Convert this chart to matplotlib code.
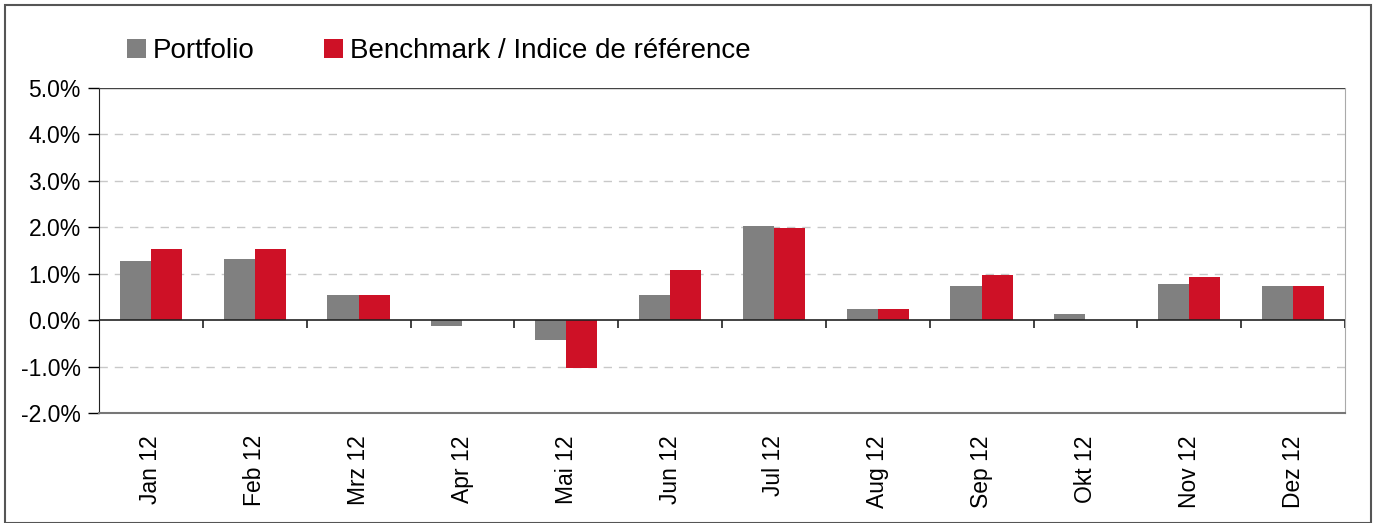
import matplotlib
matplotlib.use("Agg")
import matplotlib.pyplot as plt
import numpy as np
from matplotlib.patches import Rectangle

months = ["Jan 12", "Feb 12", "Mrz 12", "Apr 12", "Mai 12", "Jun 12",
          "Jul 12", "Aug 12", "Sep 12", "Okt 12", "Nov 12", "Dez 12"]
portfolio = [1.27, 1.31, 0.54, -0.12, -0.43, 0.54, 2.03, 0.24, 0.73, 0.13, 0.78, 0.73]
benchmark = [1.53, 1.53, 0.54, 0.0, -1.03, 1.08, 1.98, 0.24, 0.97, 0.0, 0.93, 0.73]
yticks = [-2, -1, 0, 1, 2, 3, 4, 5]
series_names = ["Portfolio", "Benchmark / Indice de référence"]

GRAY = "#808080"
RED = "#CE1126"

plt.rcParams['font.family'] = ['Liberation Sans', 'DejaVu Sans']

fig = plt.figure(figsize=(13.8, 5.23), dpi=100)
ax = fig.add_axes([99/1380, 1 - 413/523, (1345-99)/1380, (413-88)/523])

x = np.arange(len(months))
w = 0.3
ax.bar(x - w/2, portfolio, width=w, color=GRAY, label=series_names[0], zorder=3)
ax.bar(x + w/2, benchmark, width=w, color=RED, label=series_names[1], zorder=3)

ax.set_xlim(-0.5, len(months) - 0.5)
ax.set_ylim(-2, 5)
ax.set_yticks(yticks)
ax.set_yticklabels([f"{v:.1f}%" for v in yticks], fontsize=16.5)
ax.tick_params(axis='y', length=8, width=1, direction='out', pad=5)

for v in yticks:
    if v not in (0, -2, 5):
        ax.axhline(v, color="#c8c8c8", lw=1, ls=(0, (6, 5)), zorder=1)
ax.axhline(0, color="#222222", lw=1.2, zorder=4)
ax.axhline(5, color="#444444", lw=1, zorder=4)

# boundary ticks on the zero line
bounds = np.arange(len(months) + 1) - 0.5
ax.vlines(bounds[1:], 0, -0.17, color="#222222", lw=1.2, zorder=4)

ax.set_xticks(x)
ax.set_xticklabels(months, rotation=90, fontsize=16.5)
ax.tick_params(axis='x', length=0, pad=16)

ax.spines["top"].set_visible(False)
ax.spines["right"].set_color("#aaaaaa")
ax.spines["bottom"].set_color("#777777")
ax.spines["bottom"].set_linewidth(1.5)
ax.spines["left"].set_color("#222222")

# legend
leg = ax.legend(loc="lower left", bbox_to_anchor=(127/1380, 1 - 64/523), bbox_transform=fig.transFigure,
                ncol=2, frameon=False, fontsize=20, handlelength=0.68, handleheight=0.68,
                handletextpad=0.25, columnspacing=2.5, borderaxespad=0, borderpad=0)

# outer frame
fig.patches.append(Rectangle((5/1380, 0), 1366/1380, 1 - 5/523, transform=fig.transFigure,
                             fill=False, edgecolor="#555555", lw=1.5))

fig.savefig("out.png", dpi=100)
